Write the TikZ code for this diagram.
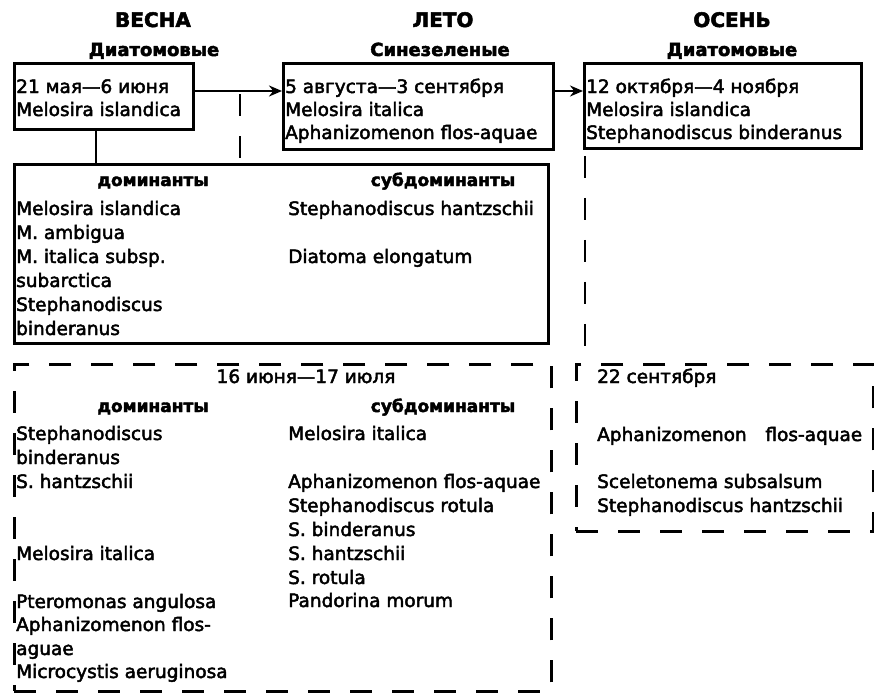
\documentclass[tikz,border=0pt]{standalone}
\usepackage{fontspec}
\setmainfont{DejaVu Sans}[FakeBold=2.5]
\usetikzlibrary{arrows.meta,calc}
\begin{document}
\begin{tikzpicture}[x=1pt,y=-1pt,
  solidbox/.style={draw,line width=2.8pt,anchor=north west,inner sep=0pt},
  dashbox/.style={draw,line width=2.8pt,anchor=north west,inner sep=0pt,dash pattern=on 22pt off 20pt},
  conn/.style={line width=2.8pt},
  dconn/.style={draw,line width=2.8pt,dash pattern=on 22pt off 20pt},
  arr/.style={line width=2.8pt,-{Stealth[length=13pt,width=11pt]}},
  txt/.style={anchor=base west,inner sep=0pt,font=\fontsize{18.5}{24}\selectfont},
  ctxt/.style={anchor=base,inner sep=0pt,font=\fontsize{18.5}{24}\selectfont},
  season/.style={anchor=base,inner sep=0pt,font=\fontsize{20}{24}\selectfont\bfseries},
  head/.style={anchor=base,inner sep=0pt,font=\fontsize{18}{22}\selectfont\bfseries},
  colh/.style={anchor=base,inner sep=0pt,font=\fontsize{17}{22}\selectfont\bfseries}]
\useasboundingbox (0,0) rectangle (874,693);

% season headers
\node[season] (hs) at (153,27) {ВЕСНА};
\node[season] (hl) at (443,27) {ЛЕТО};
\node[season] (ha) at (732,27) {ОСЕНЬ};
\node[head] (gs) at (154,56) {Диатомовые};
\node[head] (gl) at (440,56) {Синезеленые};
\node[head] (ga) at (732,56) {Диатомовые};

% boxes
\node[solidbox,minimum width=179pt,minimum height=66pt] (b1) at (13,62) {};
\node[solidbox,minimum width=270pt,minimum height=86pt] (b2) at (282,62) {};
\node[solidbox,minimum width=277pt,minimum height=85pt] (b3) at (583,62) {};
\node[solidbox,minimum width=534pt,minimum height=179pt] (b4) at (13,163) {};
\node[dashbox,minimum width=537pt,minimum height=327pt] (b5) at (13,363) {};
\node[dashbox,minimum width=297pt,minimum height=167pt] (b6) at (575,363) {};

% connectors
\draw[arr] ([yshift=-29pt]b1.north east) -- ([yshift=-29pt]b2.north west);
\draw[arr] ([yshift=-29pt]b2.north east) -- ([yshift=-29pt]b3.north west);
\coordinate (j1) at (240,94);
\path[dconn] (j1) -- (j1 |- b4.north);
\coordinate (s1) at ([xshift=83pt]b1.south west);
\draw[conn] (s1) -- (s1 |- b4.north);
\coordinate (s3) at ([xshift=2pt]b3.south west);
\path[dconn,dash phase=-6pt] (s3) -- (s3 |- b6.north);

% box 1
\node[txt] (t11) at (16,93) {21 мая—6 июня};
\node[txt] (t12) at (16,116) {Melosira islandica};
% box 2
\node[txt] (t21) at (285,93) {5 августа—3 сентября};
\node[txt] (t22) at (285,116) {Melosira italica};
\node[txt] (t23) at (285,139) {Aphanizomenon flos-aquae};
% box 3
\node[txt] (t31) at (586,93) {12 октября—4 ноября};
\node[txt] (t32) at (586,116) {Melosira islandica};
\node[txt] (t33) at (586,139) {Stephanodiscus binderanus};

% box 4
\node[colh] (d4) at (153,186) {доминанты};
\node[colh] (s4) at (443,186) {субдоминанты};
\node[txt] (l41) at (16,215) {Melosira islandica};
\node[txt] (l42) at (16,239) {M. ambigua};
\node[txt] (l43) at (16,263) {M. italica subsp.};
\node[txt] (l44) at (16,287) {subarctica};
\node[txt] (l45) at (16,311) {Stephanodiscus};
\node[txt] (l46) at (16,335) {binderanus};
\node[txt] (r41) at (288,215) {Stephanodiscus hantzschii};
\node[txt] (r42) at (288,263) {Diatoma elongatum};

% box 5
\node[ctxt] (t5) at (306,383) {16 июня—17 июля};
\node[colh] (d5) at (153,412) {доминанты};
\node[colh] (s5) at (443,412) {субдоминанты};
\node[txt] (l51) at (16,440) {Stephanodiscus};
\node[txt] (l52) at (16,464) {binderanus};
\node[txt] (l53) at (16,488) {S. hantzschii};
\node[txt] (l54) at (16,560) {Melosira italica};
\node[txt] (l55) at (16,608) {Pteromonas angulosa};
\node[txt] (l56) at (16,631) {Aphanizomenon flos-};
\node[txt] (l57) at (16,655) {aguae};
\node[txt] (l58) at (16,678) {Microcystis aeruginosa};
\node[txt] (r51) at (288,440) {Melosira italica};
\node[txt] (r52) at (288,488) {Aphanizomenon flos-aquae};
\node[txt] (r53) at (288,512) {Stephanodiscus rotula};
\node[txt] (r54) at (288,536) {S. binderanus};
\node[txt] (r55) at (288,560) {S. hantzschii};
\node[txt] (r56) at (288,584) {S. rotula};
\node[txt] (r57) at (288,607) {Pandorina morum};

% box 6
\node[txt] (t61) at (597,383) {22 сентября};
\node[txt] (t62) at (597,441) {\makebox[265pt][l]{Aphanizomenon\hfill flos-aquae}};
\node[txt] (t63) at (597,488) {Sceletonema subsalsum};
\node[txt] (t64) at (597,512) {Stephanodiscus hantzschii};
\end{tikzpicture}
\end{document}
